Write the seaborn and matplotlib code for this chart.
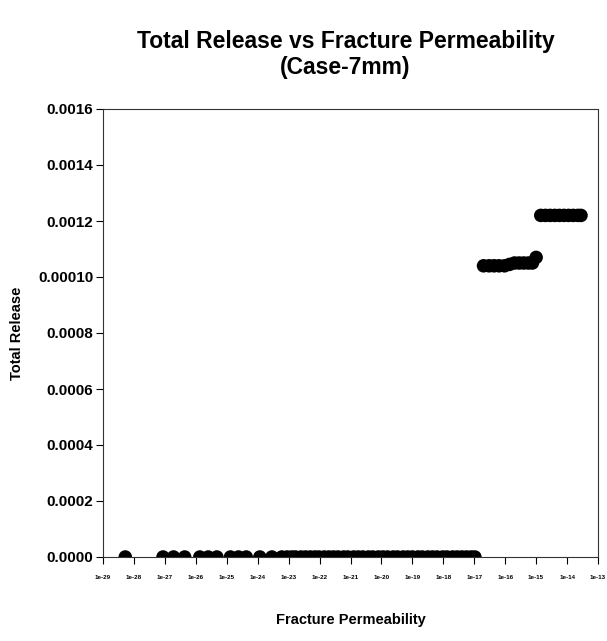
import numpy as np
import pandas as pd
import matplotlib
matplotlib.use("Agg")
import matplotlib.pyplot as plt
import seaborn as sns

# ---- data ----
zero_log10_perm = [-28.28, -27.06, -26.72, -26.36, -25.87, -25.60, -25.32, -24.88,
                   -24.62, -24.37, -23.93, -23.54, -23.22, -23.05, -22.90, -22.78,
                   -22.60, -22.45, -22.30, -22.15, -22.02, -21.85, -21.70, -21.55,
                   -21.40, -21.22, -21.08, -20.90, -20.75, -20.60, -20.42, -20.28,
                   -20.10, -19.95, -19.80, -19.62, -19.48, -19.30, -19.15, -19.00,
                   -18.82, -18.68, -18.50, -18.35, -18.20, -18.02, -17.88, -17.70,
                   -17.55, -17.40, -17.25, -17.10, -16.98]
zero_release = [0.0] * len(zero_log10_perm)

low_log10_perm = [-16.70, -16.52, -16.36, -16.20, -16.02, -15.86, -15.70, -15.55,
                  -15.40, -15.25, -15.12, -15.00]
low_release = [0.00104, 0.00104, 0.00104, 0.00104, 0.00104, 0.001045, 0.00105,
               0.00105, 0.00105, 0.00105, 0.00105, 0.00107]

high_log10_perm = [-14.85, -14.70, -14.55, -14.40, -14.25, -14.10, -13.95, -13.80,
                   -13.65, -13.55]
high_release = [0.00122] * len(high_log10_perm)

x_tick_exponents = list(range(-29, -12))
x_tick_labels = [f"1e{e}" for e in x_tick_exponents]
y_ticks = [0.0, 0.0002, 0.0004, 0.0006, 0.0008, 0.0010, 0.0012, 0.0014, 0.0016]
y_tick_labels = ["0.0000", "0.0002", "0.0004", "0.0006", "0.0008", "0.00010",
                 "0.0012", "0.0014", "0.0016"]

# ---- build table ----
log_perm = zero_log10_perm + low_log10_perm + high_log10_perm
release = zero_release + low_release + high_release
df = pd.DataFrame({"Fracture Permeability": 10.0 ** np.array(log_perm),
                   "Total Release": release})

sns.set_style("ticks")
plt.rcParams["font.family"] = ["Liberation Sans", "DejaVu Sans"]
plt.rcParams["text.color"] = "black"
plt.rcParams["axes.labelcolor"] = "black"
plt.rcParams["xtick.color"] = "black"
plt.rcParams["ytick.color"] = "black"

fig = plt.figure(figsize=(6.07, 6.41), dpi=100)
ax = fig.add_axes([103 / 607, 1 - 557 / 641, 495 / 607, 448 / 641])

sns.scatterplot(data=df, x="Fracture Permeability", y="Total Release", ax=ax,
                color="black", edgecolor="none", s=95, linewidth=0, legend=False)

ax.set_xscale("log")
ax.set_xlim(10.0 ** x_tick_exponents[0], 10.0 ** x_tick_exponents[-1])
ax.set_xticks([10.0 ** e for e in x_tick_exponents])
ax.set_xticklabels(x_tick_labels, fontsize=4.5, fontweight="bold")
ax.xaxis.set_minor_locator(matplotlib.ticker.NullLocator())

ax.set_ylim(0, 0.0016)
ax.set_yticks(y_ticks)
ax.set_yticklabels(y_tick_labels, fontsize=11, fontweight="bold")

ax.tick_params(axis="both", direction="out", length=5, width=0.8, color="black")
ax.tick_params(axis="x", pad=8)
ax.tick_params(axis="y", pad=2)
for sp in ax.spines.values():
    sp.set_visible(True)
    sp.set_color("#333333")
    sp.set_linewidth(0.8)

ax.set_xlabel("Fracture Permeability", fontsize=10.5, fontweight="bold", labelpad=24)
ax.set_ylabel("Total Release", fontsize=10.5, fontweight="bold", labelpad=10)
ax.set_title("Total Release vs Fracture Permeability\n(Case-7mm)",
             fontsize=16.5, fontweight="bold", pad=25, linespacing=1.2)
ax.title.set_position((0.49, 1.0))

fig.savefig("out.png", dpi=100, facecolor="white")
